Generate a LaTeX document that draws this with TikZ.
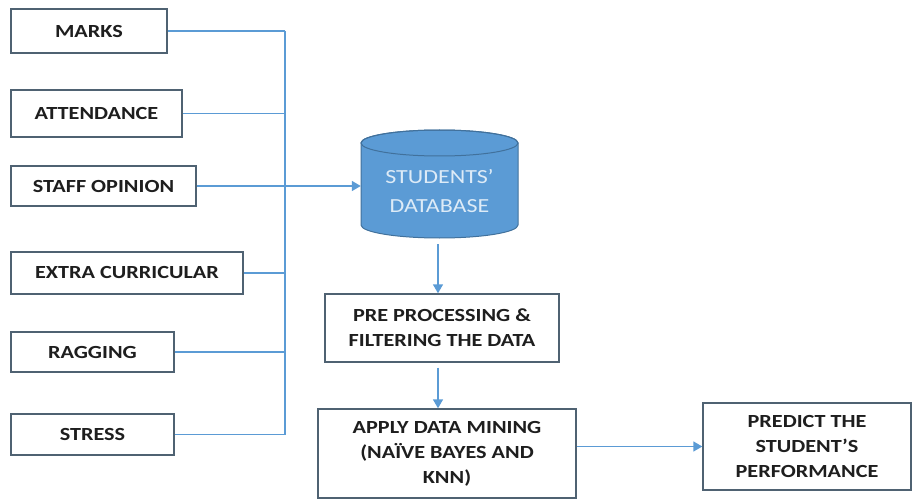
\documentclass[tikz,border=0pt]{standalone}
\usepackage{fontspec}
\setmainfont{Carlito}[FakeStretch=1.2]
\usetikzlibrary{arrows.meta}
\definecolor{flow}{HTML}{5B9BD5}
\definecolor{boxline}{HTML}{4F6272}
\definecolor{dbfill}{HTML}{5B9BD5}
\definecolor{dbline}{HTML}{41719C}
\definecolor{dbtext}{HTML}{DDEBF7}
\definecolor{txt}{HTML}{1E1E1E}
\begin{document}
\begin{tikzpicture}[x=1pt,y=-1pt,
  inbox/.style={draw=boxline, line width=1.4pt, fill=white, text=txt,
    font=\fontsize{18.5}{25}\selectfont\bfseries, align=center, inner sep=0pt},
  flowline/.style={draw=flow, line width=1.5pt},
  flowarrow/.style={flowline, -{Triangle[width=10pt,length=9pt]}}]
\useasboundingbox (0,0) rectangle (913,500);
% input boxes
\node[inbox, minimum width=156, minimum height=44] (marks) at (89,31) {MARKS};
\node[inbox, minimum width=171, minimum height=47] (att) at (96.5,113.5) {ATTENDANCE};
\node[inbox, minimum width=185, minimum height=40] (staff) at (103.5,186) {STAFF OPINION};
\node[inbox, minimum width=232, minimum height=42] (extra) at (127,273) {EXTRA CURRICULAR};
\node[inbox, minimum width=163, minimum height=40] (rag) at (92.5,352) {RAGGING};
\node[inbox, minimum width=163, minimum height=41] (stress) at (92.5,434.5) {STRESS};
% bus
\coordinate (bustop) at (285,31);
\coordinate (busbot) at (285,434.5);
\draw[flowline] (bustop) -- (busbot);
\foreach \n in {marks,att,staff,extra,rag,stress}
  \draw[flowline] (\n.east) -- (\n.east -| bustop);
% database cylinder
\draw[fill=dbfill, draw=dbline, line width=1pt]
  (361,143) -- (361,225) arc[start angle=180, end angle=360, x radius=78.5pt, y radius=13pt]
  -- (518,143) arc[start angle=0, end angle=180, x radius=78.5pt, y radius=13pt] -- cycle;
\draw[draw=dbline, line width=1pt] (439.5,143) ellipse [x radius=78.5pt, y radius=13pt];
\node[text=dbtext, font=\fontsize{20}{29}\selectfont, align=center, inner sep=0pt,
  minimum width=157, minimum height=94] (db) at (439.5,191) {STUDENTS’\\DATABASE};
% process boxes
\node[inbox, minimum width=234, minimum height=68] (pre) at (442,328) {PRE PROCESSING \&\\FILTERING THE DATA};
\node[inbox, minimum width=258, minimum height=89] (apply) at (447,453.5) {APPLY DATA MINING\\(NAÏVE BAYES AND\\KNN)};
\node[inbox, minimum width=208, minimum height=87] (predict) at (807,446.5) {PREDICT THE\\STUDENT’S\\PERFORMANCE};
% arrows
\draw[flowarrow] (staff.east -| bustop) -- (staff.east -| db.west);
\draw[flowarrow, shorten <=6pt] (db.south -| 438,0) -- (pre.north -| 438,0);
\draw[flowarrow, shorten <=5pt] (pre.south -| 438,0) -- (apply.north -| 438,0);
\draw[flowarrow] (apply.east |- predict.west) -- (predict.west);
\end{tikzpicture}
\end{document}
